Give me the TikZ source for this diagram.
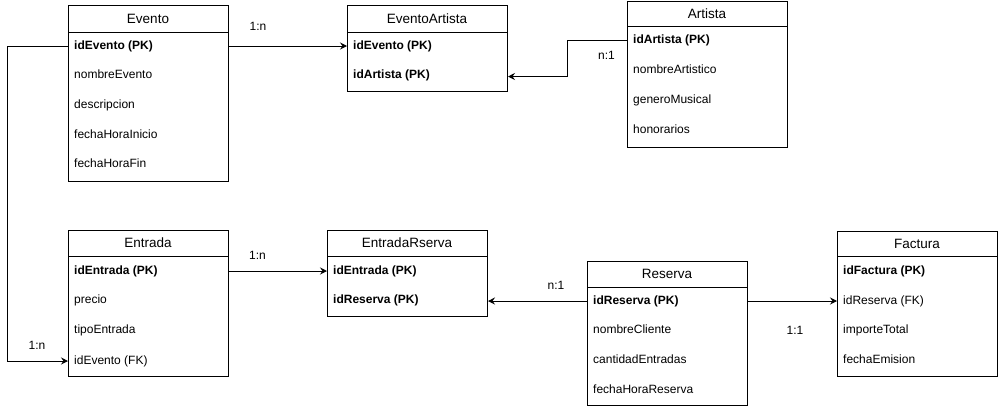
\documentclass[tikz,border=0pt]{standalone}
\usepackage{fontspec}
\setmainfont{Liberation Sans}
\usetikzlibrary{arrows.meta}
\begin{document}
\begin{tikzpicture}[x=1pt,y=-1pt,
 box/.style={draw,line width=1pt,minimum width=160pt,anchor=north west,inner sep=0pt},
 ttl/.style={font=\fontsize{13.5}{16}\selectfont,inner sep=0pt},
 fld/.style={font=\fontsize{12}{14}\selectfont,anchor=west,inner sep=0pt,text height=9pt,text depth=2.5pt},
 pk/.style={fld,font=\fontsize{12}{14}\selectfont\bfseries},
 lbl/.style={font=\fontsize{12}{14}\selectfont,inner sep=0pt},
 sep/.style={line width=1pt},
 conn/.style={line width=1pt,-{Stealth[length=7pt,width=7pt,inset=2.5pt]}}]
\useasboundingbox (0,0) rectangle (998,410);

% Evento
\node[box,minimum height=176pt] (evento) at (68,5) {};
\node[ttl] (evento-t) at (148,18.5) {Evento};
\draw[sep] (68,32) -- (228,32);
\node[pk]  (evento-1) at (74,46) {idEvento (PK)};
\node[fld] (evento-2) at (74,75.5) {nombreEvento};
\node[fld] (evento-3) at (74,105) {descripcion};
\node[fld] (evento-4) at (74,135) {fechaHoraInicio};
\node[fld] (evento-5) at (74,164.5) {fechaHoraFin};

% EventoArtista
\node[box,minimum height=86pt] (ea) at (347,5) {};
\node[ttl] (ea-t) at (427,18.5) {EventoArtista};
\draw[sep] (347,32) -- (507,32);
\node[pk] (ea-1) at (353,46) {idEvento (PK)};
\node[pk] (ea-2) at (353,75.5) {idArtista (PK)};

% Artista
\node[box,minimum height=146pt] (artista) at (627,0.5) {};
\node[ttl] (artista-t) at (707,14) {Artista};
\draw[sep] (627,26) -- (787,26);
\node[pk]  (artista-1) at (633,40.5) {idArtista (PK)};
\node[fld] (artista-2) at (633,70) {nombreArtistico};
\node[fld] (artista-3) at (633,100) {generoMusical};
\node[fld] (artista-4) at (633,130) {honorarios};

% Entrada
\node[box,minimum height=146pt] (entrada) at (68,230) {};
\node[ttl] (entrada-t) at (148,243) {Entrada};
\draw[sep] (68,256) -- (228,256);
\node[pk]  (entrada-1) at (74,271) {idEntrada (PK)};
\node[fld] (entrada-2) at (74,300) {precio};
\node[fld] (entrada-3) at (74,330) {tipoEntrada};
\node[fld] (entrada-4) at (74,361) {idEvento (FK)};

% EntradaRserva
\node[box,minimum height=86pt] (er) at (327,230) {};
\node[ttl] (er-t) at (407,243) {EntradaRserva};
\draw[sep] (327,256) -- (487,256);
\node[pk] (er-1) at (333,271) {idEntrada (PK)};
\node[pk] (er-2) at (333,300.5) {idReserva (PK)};

% Reserva
\node[box,minimum height=144pt] (reserva) at (587,261) {};
\node[ttl] (reserva-t) at (667,274) {Reserva};
\draw[sep] (587,287) -- (747,287);
\node[pk]  (reserva-1) at (593,301) {idReserva (PK)};
\node[fld] (reserva-2) at (593,330) {nombreCliente};
\node[fld] (reserva-3) at (593,360) {cantidadEntradas};
\node[fld] (reserva-4) at (593,390) {fechaHoraReserva};

% Factura
\node[box,minimum height=145pt] (factura) at (837,231) {};
\node[ttl] (factura-t) at (917,243.5) {Factura};
\draw[sep] (837,256) -- (997,256);
\node[pk]  (factura-1) at (843,271) {idFactura (PK)};
\node[fld] (factura-2) at (843,301) {idReserva (FK)};
\node[fld] (factura-3) at (843,330) {importeTotal};
\node[fld] (factura-4) at (843,360) {fechaEmision};

% connectors
\draw[conn] (evento-1 -| evento.east) -- (evento-1 -| ea.west);
\draw[conn] (artista-1 -| artista.west) -- ++(-60,0) |- ([yshift=-1pt]ea-2 -| ea.east);
\draw[conn] (evento-1 -| evento.west) -- ++(-61,0) |- (entrada-4 -| entrada.west);
\draw[conn] (entrada-1 -| entrada.east) -- (entrada-1 -| er.west);
\draw[conn] (reserva-1 -| reserva.west) -- (reserva-1 -| er.east);
\draw[conn] (reserva-1 -| reserva.east) -- (reserva-1 -| factura.west);

% labels
\node[lbl] (l1) at (258,26) {1:n};
\node[lbl] (l2) at (606.5,55) {n:1};
\node[lbl] (l3) at (37,345.5) {1:n};
\node[lbl] (l4) at (257.5,255) {1:n};
\node[lbl] (l5) at (556,285) {n:1};
\node[lbl] (l6) at (795,330.5) {1:1};
\end{tikzpicture}
\end{document}
